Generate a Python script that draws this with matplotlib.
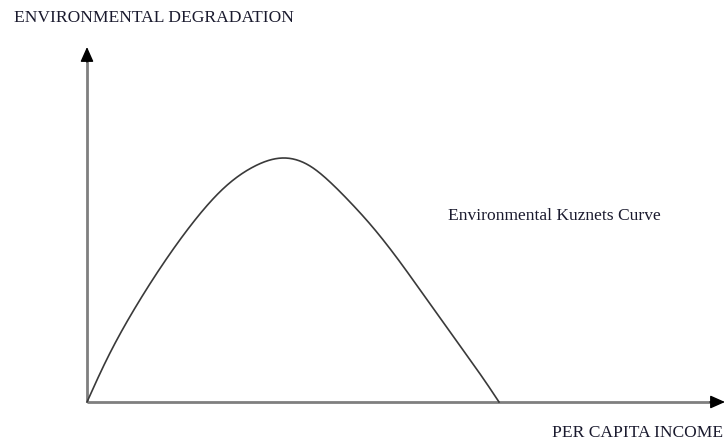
import matplotlib
matplotlib.use("Agg")
import matplotlib.pyplot as plt
import numpy as np

# Curve points (income, degradation)
income = [0, 18, 48, 78, 108, 138, 168, 198, 223, 243, 263, 283, 313, 336, 356, 376, 400, 412]
degradation = [0, 39, 94, 141, 182, 215, 236, 244, 236, 220, 200, 178, 140, 108, 80, 52, 18, 0]

y_label = "ENVIRONMENTAL DEGRADATION"
x_label = "PER CAPITA INCOME"
curve_label = "Environmental Kuznets Curve"

fig = plt.figure(figsize=(7.26, 4.41), dpi=100)
ax = fig.add_axes([0, 0, 1, 1])
ax.set_xlim(-87, 639)
ax.set_ylim(-39, 402)
ax.axis("off")

axis_col = "#7f7f7f"
ax.plot([0, 0], [0, 345], color=axis_col, lw=2, solid_capstyle="butt")
ax.plot([0, 628], [0, 0], color=axis_col, lw=2, solid_capstyle="butt")
ax.annotate("", xy=(0, 355), xytext=(0, 340),
            arrowprops=dict(arrowstyle="-|>,head_length=0.9,head_width=0.4",
                            color="black", lw=1, shrinkA=0, shrinkB=0))
ax.annotate("", xy=(638, 0), xytext=(623, 0),
            arrowprops=dict(arrowstyle="-|>,head_length=0.9,head_width=0.4",
                            color="black", lw=1, shrinkA=0, shrinkB=0))


def natural_spline(x, y, n=600):
    """Natural cubic spline through the read points (for a smooth line)."""
    x = np.asarray(x, float)
    y = np.asarray(y, float)
    m = len(x)
    h = np.diff(x)
    A = np.zeros((m, m))
    b = np.zeros(m)
    A[0, 0] = A[-1, -1] = 1.0
    for i in range(1, m - 1):
        A[i, i - 1] = h[i - 1]
        A[i, i] = 2 * (h[i - 1] + h[i])
        A[i, i + 1] = h[i]
        b[i] = 6 * ((y[i + 1] - y[i]) / h[i] - (y[i] - y[i - 1]) / h[i - 1])
    M = np.linalg.solve(A, b)
    xs = np.linspace(x[0], x[-1], n)
    idx = np.clip(np.searchsorted(x, xs) - 1, 0, m - 2)
    x0, x1 = x[idx], x[idx + 1]
    hh = x1 - x0
    t0, t1 = x1 - xs, xs - x0
    ys = (M[idx] * t0 ** 3 / (6 * hh) + M[idx + 1] * t1 ** 3 / (6 * hh)
          + (y[idx] / hh - M[idx] * hh / 6) * t0
          + (y[idx + 1] / hh - M[idx + 1] * hh / 6) * t1)
    return xs, ys


cx, cy = natural_spline(income, degradation)
ax.plot(cx, cy, color="#3a3a3a", lw=1.2)

font = dict(family=["Liberation Serif", "DejaVu Serif"], color="#1a1a2e")
fs = 12.6
ax.text(-73, 380, y_label, fontsize=fs, ha="left", va="baseline", **font)
ax.text(636, -35, x_label, fontsize=fs, ha="right", va="baseline", **font)
ax.text(361, 182, curve_label, fontsize=fs, ha="left", va="baseline", **font)

fig.savefig("out.png", dpi=100)
